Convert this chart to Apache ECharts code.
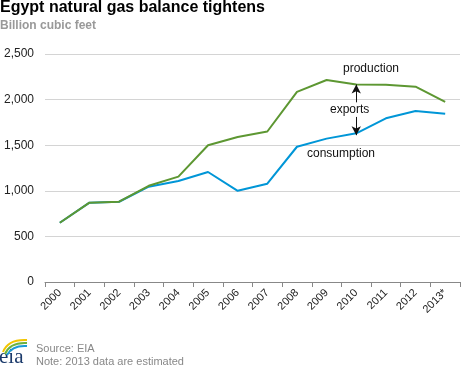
<!DOCTYPE html>
<html>
<head>
<meta charset="utf-8">
<script src="https://cdn.jsdelivr.net/npm/echarts@6/dist/echarts.min.js"></script>
<style>
html,body{margin:0;padding:0;background:#fff;}
#chart{width:468px;height:368px;}
</style>
</head>
<body>
<div id="chart"></div>
<script>
var years = ['2000','2001','2002','2003','2004','2005','2006','2007','2008','2009','2010','2011','2012','2013*'];
var production = [650, 870, 880, 1055, 1155, 1500, 1590, 1650, 2085, 2215, 2165, 2162, 2142, 1975];
var consumption = [650, 870, 880, 1045, 1107, 1206, 1000, 1078, 1483, 1572, 1630, 1795, 1875, 1845];
var yTicks = [0, 500, 1000, 1500, 2000, 2500];

var chart = echarts.init(document.getElementById('chart'));
var font = 'Liberation Sans, Arial, sans-serif';
chart.setOption({
  animation: false,
  backgroundColor: '#fff',
  textStyle: {fontFamily: font},
  grid: {left: 45, right: 8, top: 54, bottom: 86},
  xAxis: {
    type: 'category',
    data: years,
    boundaryGap: true,
    axisLine: {lineStyle: {color: '#888', width: 1}},
    axisTick: {show: true, length: 5, lineStyle: {color: '#888'}},
    axisLabel: {rotate: 45, color: '#222', fontSize: 11, fontFamily: font, margin: 9}
  },
  yAxis: {
    type: 'value',
    min: yTicks[0],
    max: yTicks[yTicks.length - 1],
    interval: 500,
    axisLine: {show: false},
    axisTick: {show: false},
    splitLine: {lineStyle: {color: '#d4d4d4', width: 1}},
    axisLabel: {
      color: '#222', fontSize: 12, fontFamily: font, margin: 11,
      formatter: function (v) { return v.toLocaleString('en-US'); }
    }
  },
  series: [
    {
      name: 'consumption', type: 'line', data: consumption,
      symbol: 'none', lineStyle: {color: '#0096d7', width: 2}, itemStyle: {color: '#0096d7'}
    },
    {
      name: 'production', type: 'line', data: production,
      symbol: 'none', lineStyle: {color: '#5d9732', width: 2}, itemStyle: {color: '#5d9732'},
      markLine: {
        silent: true,
        symbol: ['none', 'arrow'],
        symbolSize: [7, 9],
        label: {show: false},
        lineStyle: {color: '#111', width: 1, type: 'solid'},
        data: [
          [{coord: ['2010', 1970]}, {coord: ['2010', 2165]}],
          [{coord: ['2010', 1810]}, {coord: ['2010', 1610]}]
        ]
      }
    }
  ],
  graphic: [
    {type: 'text', left: 0, top: 0, style: {text: 'Egypt natural gas balance tightens', fill: '#000', font: 'bold 16px ' + font}},
    {type: 'text', left: 0, top: 20, style: {text: 'Billion cubic feet', fill: '#999', font: 'bold 12px ' + font}},
    {type: 'text', left: 343, top: 63, style: {text: 'production', fill: '#111', font: '12px ' + font}},
    {type: 'text', left: 330, top: 104, style: {text: 'exports', fill: '#111', font: '12px ' + font}},
    {type: 'text', left: 307, top: 148, style: {text: 'consumption', fill: '#111', font: '12px ' + font}},
    {type: 'text', left: 36, top: 343, style: {text: 'Source: EIA', fill: '#888', font: '11px ' + font}},
    {type: 'text', left: 36, top: 356, style: {text: 'Note: 2013 data are estimated', fill: '#888', font: '11px ' + font}},
    {type: 'text', left: -1, top: 347, style: {text: 'eia', fill: '#1b3a6b', font: '21px Liberation Serif, serif'}},
    {type: 'bezierCurve', shape: {x1: 3, y1: 352, cpx1: 8, cpy1: 339, x2: 27, y2: 340}, style: {stroke: '#f2c500', lineWidth: 2, fill: null}},
    {type: 'bezierCurve', shape: {x1: 5, y1: 354, cpx1: 10, cpy1: 342, x2: 27, y2: 343}, style: {stroke: '#6cb33f', lineWidth: 2, fill: null}},
    {type: 'bezierCurve', shape: {x1: 7, y1: 355, cpx1: 12, cpy1: 345, x2: 27, y2: 346}, style: {stroke: '#1a9ad6', lineWidth: 2, fill: null}}
  ]
});
</script>
</body>
</html>
